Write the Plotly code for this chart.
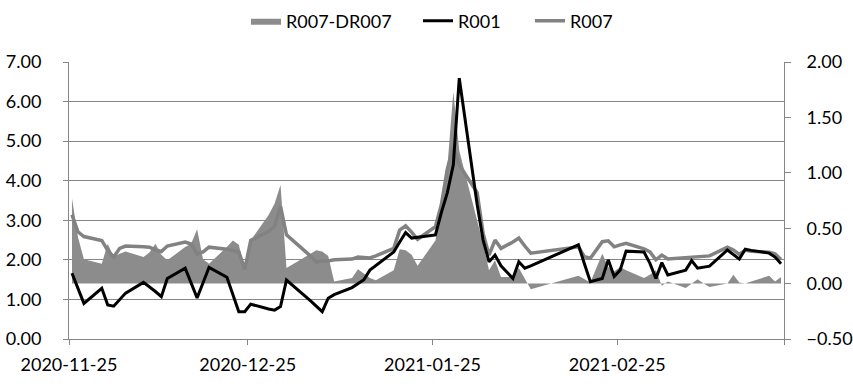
import pandas as pd
import plotly.graph_objects as go

dates = [
    "2020-11-25", "2020-11-26", "2020-11-27", "2020-11-30",
    "2020-12-01", "2020-12-02", "2020-12-03", "2020-12-04",
    "2020-12-07", "2020-12-08", "2020-12-09", "2020-12-10", "2020-12-11",
    "2020-12-14", "2020-12-15", "2020-12-16", "2020-12-17", "2020-12-18",
    "2020-12-21", "2020-12-22", "2020-12-23", "2020-12-24", "2020-12-25",
    "2020-12-28", "2020-12-29", "2020-12-30", "2020-12-31",
    "2021-01-04", "2021-01-05", "2021-01-06", "2021-01-07", "2021-01-08",
    "2021-01-11", "2021-01-12", "2021-01-13", "2021-01-14", "2021-01-15",
    "2021-01-18", "2021-01-19", "2021-01-20", "2021-01-21", "2021-01-22",
    "2021-01-25", "2021-01-26", "2021-01-27", "2021-01-28", "2021-01-29",
    "2021-02-01", "2021-02-02", "2021-02-03", "2021-02-04", "2021-02-05",
    "2021-02-07", "2021-02-08", "2021-02-09", "2021-02-10",
    "2021-02-18", "2021-02-19", "2021-02-20",
    "2021-02-22", "2021-02-23", "2021-02-24", "2021-02-25", "2021-02-26",
    "2021-03-01", "2021-03-02", "2021-03-03", "2021-03-04", "2021-03-05",
    "2021-03-08", "2021-03-09", "2021-03-10", "2021-03-11", "2021-03-12",
    "2021-03-15", "2021-03-16", "2021-03-17", "2021-03-18", "2021-03-19",
    "2021-03-22", "2021-03-23", "2021-03-24",
]

r001 = [
    1.66, 1.28, 0.90, 1.28,
    0.86, 0.83, 1.00, 1.16,
    1.43, 1.32, 1.20, 1.07, 1.53,
    1.79, 1.40, 1.04, 1.42, 1.81,
    1.56, 1.12, 0.69, 0.69, 0.88,
    0.76, 0.73, 0.82, 1.49,
    0.97, 0.84, 0.69, 1.03, 1.12,
    1.30, 1.40, 1.50, 1.74, 1.85,
    2.20, 2.45, 2.69, 2.55, 2.57,
    2.63, 3.20, 3.70, 4.40, 6.59,
    3.40, 2.50, 1.95, 2.12, 1.85,
    1.53, 1.95, 1.79, 1.85,
    2.38, 1.90, 1.45,
    1.53, 2.00, 1.58, 1.74, 2.22,
    2.20, 1.91, 1.53, 1.93, 1.62,
    1.74, 1.98, 1.79, 1.82, 1.84,
    2.25, 2.13, 2.02, 2.27, 2.24,
    2.17, 2.07, 1.90,
]

r007 = [
    3.14, 2.71, 2.59, 2.49,
    2.24, 2.07, 2.29, 2.35,
    2.33, 2.32, 2.25, 2.21, 2.35,
    2.45, 2.40, 2.15, 2.20, 2.32,
    2.27, 2.23, 2.20, 1.76, 2.49,
    2.72, 2.85, 3.35, 2.63,
    2.10, 1.95, 1.97, 1.97, 2.00,
    2.02, 2.07, 2.06, 2.05, 2.10,
    2.29, 2.75, 2.86, 2.70, 2.52,
    2.84, 3.40, 4.30, 4.86, 4.40,
    3.70, 2.67, 2.12, 2.50, 2.29,
    2.45, 2.55, 2.35, 2.17,
    2.33, 2.08, 2.04,
    2.46, 2.48, 2.33, 2.38, 2.42,
    2.28, 2.20, 2.00, 2.12, 2.02,
    2.05, 2.06, 2.06, 2.08, 2.10,
    2.32, 2.25, 2.14, 2.24, 2.22,
    2.19, 2.15, 2.01,
]

spread = [
    0.77, 0.42, 0.22, 0.18,
    0.36, 0.24, 0.27, 0.29,
    0.24, 0.28, 0.36, 0.26, 0.21,
    0.33, 0.36, 0.49, 0.22, 0.18,
    0.33, 0.39, 0.35, 0.13, 0.39,
    0.62, 0.72, 0.89, 0.14,
    0.27, 0.30, 0.29, 0.25, 0.02,
    0.05, 0.13, 0.09, 0.05, 0.03,
    0.12, 0.31, 0.30, 0.26, 0.16,
    0.39, 0.70, 1.05, 1.73, 1.20,
    0.58, 0.36, 0.12, 0.21, 0.06,
    0.06, 0.14, 0.05, -0.05,
    0.07, 0.04, 0.01,
    0.27, 0.15, 0.11, 0.15, 0.12,
    0.05, 0.08, 0.12, -0.02, 0.02,
    -0.04, 0.00, 0.04, 0.00, -0.03,
    0.00, 0.08, 0.01, 0.00, 0.02,
    0.07, 0.02, 0.06,
]

tick_dates = ["2020-11-25", "2020-12-25", "2021-01-25", "2021-02-25", "2021-03-25"]
tick_labels = ["2020-11-25", "2020-12-25", "2021-01-25", "2021-02-25", ""]

# Excel "between tick marks" placement: points sit at the middle of each day
x = pd.to_datetime(dates) + pd.Timedelta(hours=12)

FONT = "Lato"
AXIS_GREY = "#868686"
TEXT = "#000000"

fig = go.Figure()
fig.add_trace(go.Scatter(
    x=x, y=spread, name="R007-DR007", yaxis="y", mode="lines",
    fill="tozeroy", fillcolor="#8c8c8c", line=dict(width=0, color="#8c8c8c"),
    legend="legend",
))
fig.add_trace(go.Scatter(
    x=x, y=r007, name="R007", yaxis="y2", mode="lines",
    line=dict(color="#828282", width=3.5), legend="legend3",
))
fig.add_trace(go.Scatter(
    x=x, y=r001, name="R001", yaxis="y2", mode="lines",
    line=dict(color="#000000", width=3), legend="legend2",
))

def leg(px_left):
    return dict(orientation="h", x=(px_left - 69) / 715, xanchor="left",
                y=1 + (62 - 21) / 277, yanchor="middle",
                font=dict(size=18, color=TEXT, family=FONT),
                bgcolor="rgba(0,0,0,0)", borderwidth=0)

fig.update_layout(
    width=853, height=384,
    margin=dict(l=69, r=69, t=62, b=45, autoexpand=False),
    paper_bgcolor="white", plot_bgcolor="white",
    font=dict(family=FONT, size=18, color=TEXT),
    showlegend=True,
    legend=leg(246),
    legend2=leg(418),
    legend3=leg(530),
    xaxis=dict(
        type="date", range=["2020-11-25", "2021-03-25"],
        tickvals=tick_dates, ticktext=tick_labels,
        ticks="outside", ticklen=5, tickcolor=AXIS_GREY,
        showline=True, linecolor=AXIS_GREY, linewidth=1,
        showgrid=False, zeroline=False, ticklabelstandoff=4,
    ),
    yaxis=dict(
        side="right", range=[-0.5, 2.0], dtick=0.5, tick0=0, tickformat=".2f",
        ticks="outside", ticklen=6, tickcolor=AXIS_GREY,
        showline=True, linecolor=AXIS_GREY, linewidth=1,
        showgrid=False, zeroline=False, ticklabelstandoff=12,
    ),
    yaxis2=dict(
        overlaying="y", side="left", range=[0, 7], dtick=1, tick0=0, tickformat=".2f",
        ticks="outside", ticklen=5, tickcolor=AXIS_GREY,
        showline=True, linecolor=AXIS_GREY, linewidth=1,
        showgrid=True, gridcolor=AXIS_GREY, gridwidth=1,
        zeroline=False, ticklabelstandoff=18,
    ),
)

fig.write_html(
    "out.html",
    config={"displayModeBar": False},
    post_script="document.body.style.margin='0';document.body.style.padding='0';",
)
